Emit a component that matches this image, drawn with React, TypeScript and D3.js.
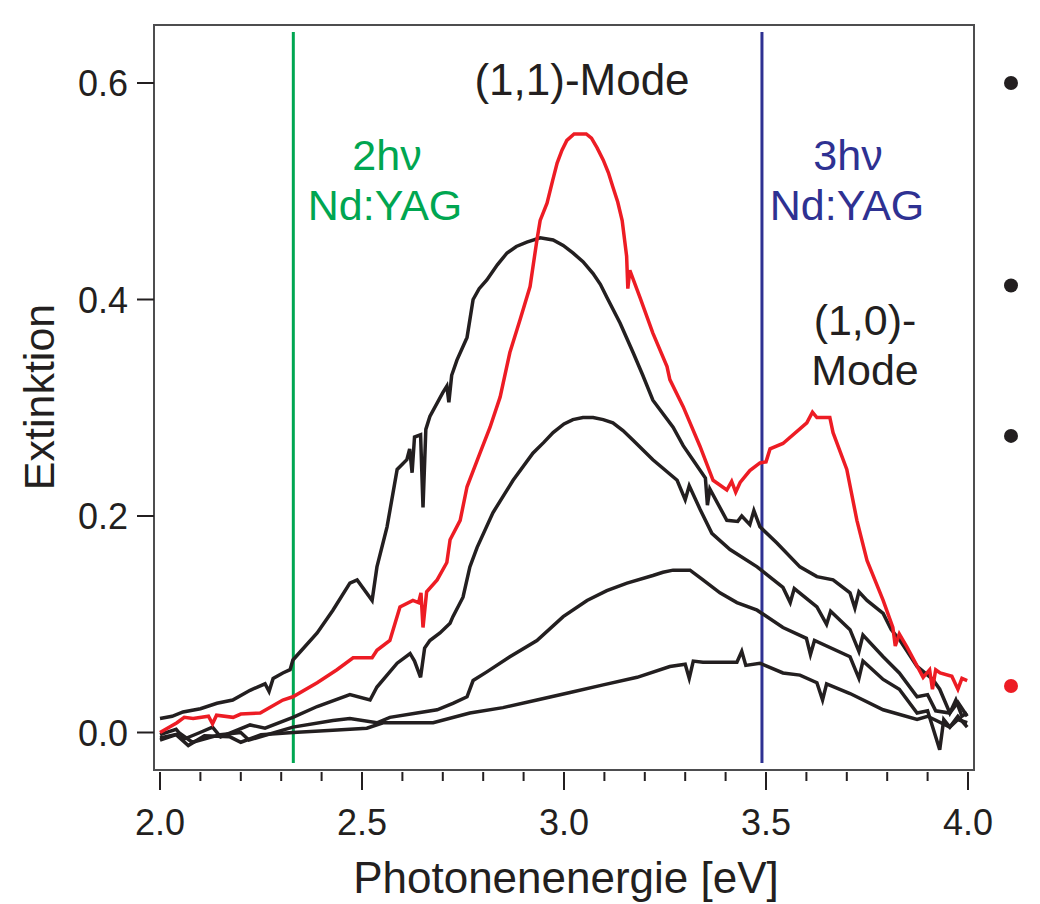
import React from "react";
import * as d3 from "d3";

type P = [number, number];

const redCurve: P[] = [
  [2.0, 0.0], [2.042, 0.009], [2.06, 0.014], [2.082, 0.013], [2.12, 0.015], [2.13, 0.008], [2.14, 0.016],
  [2.181, 0.014], [2.2, 0.017], [2.248, 0.018], [2.304, 0.03], [2.329, 0.033],
  [2.389, 0.046], [2.438, 0.058], [2.478, 0.069], [2.525, 0.069], [2.537, 0.076], [2.569, 0.085], [2.594, 0.116],
  [2.626, 0.122], [2.64, 0.12], [2.646, 0.129], [2.651, 0.097], [2.66, 0.13], [2.686, 0.141], [2.71, 0.157], [2.718, 0.178],
  [2.743, 0.196], [2.76, 0.227], [2.792, 0.258], [2.817, 0.282], [2.842, 0.31], [2.866, 0.351], [2.891, 0.381],
  [2.916, 0.412], [2.933, 0.455], [2.941, 0.473], [2.958, 0.489], [2.972, 0.51], [2.983, 0.526], [2.995, 0.538],
  [3.007, 0.547], [3.025, 0.553], [3.055, 0.553], [3.068, 0.549], [3.082, 0.54], [3.097, 0.529], [3.11, 0.517],
  [3.121, 0.504], [3.133, 0.49], [3.144, 0.473], [3.155, 0.44], [3.158, 0.41], [3.163, 0.427],
  [3.188, 0.402], [3.22, 0.369], [3.255, 0.338], [3.262, 0.326], [3.295, 0.301], [3.337, 0.264], [3.369, 0.233],
  [3.403, 0.224], [3.415, 0.232], [3.425, 0.222], [3.436, 0.231], [3.46, 0.242], [3.485, 0.249], [3.5, 0.25],
  [3.51, 0.262], [3.542, 0.267], [3.601, 0.286], [3.615, 0.296], [3.626, 0.291], [3.658, 0.291],
  [3.666, 0.277], [3.7, 0.243], [3.725, 0.196], [3.75, 0.159], [3.79, 0.122], [3.814, 0.097], [3.82, 0.08],
  [3.83, 0.091], [3.849, 0.079], [3.889, 0.051], [3.905, 0.058], [3.912, 0.04], [3.92, 0.058], [3.931, 0.055],
  [3.96, 0.052], [3.975, 0.04], [3.985, 0.05], [3.998, 0.048],
];

const curveA: P[] = [
  [2.0, 0.013], [2.03, 0.015], [2.057, 0.019], [2.1, 0.022], [2.141, 0.027], [2.18, 0.03], [2.223, 0.039], [2.26, 0.045],
  [2.27, 0.038], [2.28, 0.05], [2.304, 0.055], [2.322, 0.058], [2.329, 0.067],
  [2.389, 0.092], [2.428, 0.113], [2.47, 0.138], [2.488, 0.141], [2.525, 0.122], [2.537, 0.153], [2.562, 0.19],
  [2.587, 0.243], [2.611, 0.252], [2.618, 0.262], [2.624, 0.24], [2.63, 0.273], [2.645, 0.275], [2.651, 0.208],
  [2.658, 0.28], [2.668, 0.292], [2.7, 0.314], [2.71, 0.32], [2.715, 0.305], [2.722, 0.33], [2.735, 0.344],
  [2.76, 0.365], [2.775, 0.4], [2.79, 0.41], [2.809, 0.418], [2.835, 0.432], [2.859, 0.443], [2.882, 0.449],
  [2.908, 0.453], [2.941, 0.457], [2.973, 0.455], [2.998, 0.45], [3.022, 0.443], [3.047, 0.435], [3.072, 0.424],
  [3.09, 0.414], [3.106, 0.402], [3.139, 0.378], [3.171, 0.351], [3.195, 0.33],
  [3.22, 0.307], [3.27, 0.282], [3.295, 0.265], [3.319, 0.252], [3.35, 0.235], [3.355, 0.21], [3.361, 0.225],
  [3.403, 0.196], [3.43, 0.195], [3.44, 0.2], [3.46, 0.192], [3.47, 0.205],
  [3.485, 0.19], [3.527, 0.175], [3.584, 0.153], [3.626, 0.144], [3.666, 0.141], [3.708, 0.129], [3.72, 0.115],
  [3.73, 0.13], [3.75, 0.122], [3.79, 0.11], [3.81, 0.095], [3.832, 0.085], [3.874, 0.061], [3.913, 0.049],
  [3.93, 0.04], [3.955, 0.018], [3.97, 0.03], [3.985, 0.015], [3.998, 0.018],
];

const curveB: P[] = [
  [2.0, -0.002], [2.04, 0.003], [2.06, -0.006], [2.099, 0.0], [2.13, 0.005], [2.15, -0.004], [2.223, 0.007],
  [2.26, 0.004], [2.329, 0.014], [2.389, 0.024], [2.47, 0.035], [2.52, 0.03],
  [2.537, 0.042], [2.587, 0.064], [2.619, 0.073], [2.63, 0.066], [2.645, 0.051], [2.655, 0.078], [2.668, 0.085],
  [2.693, 0.092], [2.718, 0.101], [2.725, 0.107], [2.75, 0.125], [2.767, 0.153], [2.785, 0.171], [2.824, 0.203],
  [2.874, 0.233], [2.923, 0.258], [2.95, 0.268], [2.973, 0.277], [3.0, 0.285], [3.022, 0.289], [3.047, 0.291],
  [3.072, 0.291], [3.097, 0.289], [3.121, 0.286], [3.146, 0.279], [3.171, 0.27],
  [3.22, 0.252], [3.28, 0.233], [3.3, 0.215], [3.31, 0.228], [3.337, 0.206], [3.366, 0.184], [3.411, 0.169],
  [3.478, 0.153], [3.542, 0.134], [3.56, 0.12], [3.57, 0.133], [3.626, 0.116], [3.65, 0.1], [3.66, 0.112],
  [3.708, 0.095], [3.73, 0.075], [3.74, 0.09], [3.79, 0.07], [3.83, 0.055], [3.874, 0.033], [3.9, 0.035],
  [3.92, 0.02], [3.955, 0.018], [3.975, 0.028], [3.998, 0.015],
];

const curveC: P[] = [
  [2.0, -0.005], [2.05, -0.001], [2.08, -0.009], [2.149, -0.002], [2.2, 0.0], [2.22, -0.007], [2.329, 0.005],
  [2.428, 0.011], [2.47, 0.013], [2.537, 0.009], [2.569, 0.014],
  [2.636, 0.018], [2.686, 0.021], [2.725, 0.027], [2.76, 0.033], [2.775, 0.048], [2.809, 0.056], [2.866, 0.07],
  [2.933, 0.085], [2.998, 0.107], [3.057, 0.122], [3.106, 0.131], [3.156, 0.138], [3.22, 0.145], [3.245, 0.148],
  [3.27, 0.15], [3.312, 0.15], [3.344, 0.141], [3.386, 0.129], [3.428, 0.12], [3.478, 0.113], [3.542, 0.097],
  [3.6, 0.087], [3.61, 0.072], [3.62, 0.085], [3.708, 0.07], [3.73, 0.05], [3.74, 0.066], [3.79, 0.049],
  [3.83, 0.04], [3.874, 0.018], [3.9, 0.02], [3.93, -0.016], [3.94, 0.012], [3.955, 0.005], [3.975, 0.015],
  [3.998, 0.005],
];

const curveD: P[] = [
  [2.0, -0.007], [2.04, -0.002], [2.07, -0.012], [2.11, -0.003], [2.173, -0.004], [2.2, -0.009], [2.25, -0.002],
  [2.329, 0.0], [2.428, 0.002], [2.512, 0.004], [2.552, 0.009], [2.676, 0.009],
  [2.767, 0.018], [2.849, 0.023], [2.933, 0.03], [3.015, 0.037], [3.097, 0.044], [3.181, 0.051], [3.262, 0.061],
  [3.3, 0.063], [3.31, 0.05], [3.32, 0.066], [3.344, 0.065], [3.428, 0.065], [3.44, 0.075], [3.45, 0.062],
  [3.485, 0.064], [3.542, 0.055], [3.584, 0.053], [3.626, 0.046], [3.64, 0.03], [3.65, 0.045], [3.708, 0.036],
  [3.79, 0.021], [3.874, 0.012], [3.9, 0.015], [3.955, 0.005], [3.975, 0.012], [3.998, 0.009],
];

const blackCurves: P[][] = [curveA, curveB, curveC, curveD];

const xMajorTicks = [2.0, 2.5, 3.0, 3.5, 4.0];
const xMinorTicks = d3.range(20, 41).map((v) => v / 10);
const yTicks = [0.0, 0.2, 0.4, 0.6];
const laserLines = [
  { energy: 2.33, color: "#00a651", labels: ["2hν", "Nd:YAG"] },
  { energy: 3.49, color: "#2e3192", labels: ["3hν", "Nd:YAG"] },
];
const markerDots = [
  { value: 0.6, color: "#231f20" },
  { value: 0.413, color: "#231f20" },
  { value: 0.274, color: "#231f20" },
  { value: 0.043, color: "#ed1c24" },
];

const W = 1040;
const H = 904;
const FONT = "'Liberation Sans', Arial, Helvetica, sans-serif";

export default function App() {
  const x = d3.scaleLinear().domain([2, 4]).range([160, 968]);
  const y = d3.scaleLinear().domain([0, 0.6]).range([732.5, 83]);
  const line = d3
    .line<P>()
    .x((d) => x(d[0]))
    .y((d) => y(d[1]))
    .curve(d3.curveLinear);

  const frame = { left: 154, right: 974, top: 25, bottom: 770 };

  return (
    <svg
      width={W}
      height={H}
      style={{ position: "absolute", left: 0, top: 0, background: "#fff" }}
      fontFamily={FONT}
    >
      <rect x={0} y={0} width={W} height={H} fill="#fff" />
      {/* frame */}
      <rect
        x={frame.left}
        y={frame.top}
        width={frame.right - frame.left}
        height={frame.bottom - frame.top}
        fill="none"
        stroke="#4d4d4f"
        strokeWidth={2}
      />
      {/* y ticks */}
      {yTicks.map((t) => (
        <g key={"y" + t}>
          <line x1={137} x2={frame.left} y1={y(t)} y2={y(t)} stroke="#231f20" strokeWidth={2} />
          <text x={128} y={y(t) + 13} textAnchor="end" fontSize={36} fill="#231f20">
            {t.toFixed(1)}
          </text>
        </g>
      ))}
      {/* x ticks */}
      {xMinorTicks.map((t) => (
        <line key={"xm" + t} x1={x(t)} x2={x(t)} y1={772} y2={781} stroke="#231f20" strokeWidth={2} />
      ))}
      {xMajorTicks.map((t) => (
        <g key={"x" + t}>
          <line x1={x(t)} x2={x(t)} y1={772} y2={790} stroke="#231f20" strokeWidth={2} />
          <text x={x(t)} y={835} textAnchor="middle" fontSize={36} fill="#231f20">
            {t.toFixed(1)}
          </text>
        </g>
      ))}
      {/* axis titles */}
      <text x={566} y={893} textAnchor="middle" fontSize={44} fill="#231f20">
        Photonenenergie [eV]
      </text>
      <text
        transform={`translate(54,397) rotate(-90)`}
        textAnchor="middle"
        fontSize={43}
        fill="#231f20"
      >
        Extinktion
      </text>
      {/* laser lines */}
      {laserLines.map((l) => (
        <line
          key={l.energy}
          x1={x(l.energy)}
          x2={x(l.energy)}
          y1={32}
          y2={763}
          stroke={l.color}
          strokeWidth={3}
        />
      ))}
      {/* data */}
      {blackCurves.map((c, i) => (
        <path
          key={i}
          d={line(c) || ""}
          fill="none"
          stroke="#231f20"
          strokeWidth={3.5}
          strokeLinejoin="miter"
        />
      ))}
      <path
        d={line(redCurve) || ""}
        fill="none"
        stroke="#ed1c24"
        strokeWidth={3.5}
        strokeLinejoin="miter"
      />
      {/* annotations */}
      <text x={582} y={95} textAnchor="middle" fontSize={44} fill="#231f20">
        (1,1)-Mode
      </text>
      <text x={387} y={170} textAnchor="middle" fontSize={43} fill={laserLines[0].color}>
        {laserLines[0].labels[0]}
      </text>
      <text x={385} y={220} textAnchor="middle" fontSize={43} fill={laserLines[0].color}>
        {laserLines[0].labels[1]}
      </text>
      <text x={848} y={170} textAnchor="middle" fontSize={43} fill={laserLines[1].color}>
        {laserLines[1].labels[0]}
      </text>
      <text x={847} y={220} textAnchor="middle" fontSize={43} fill={laserLines[1].color}>
        {laserLines[1].labels[1]}
      </text>
      <text x={865} y={335} textAnchor="middle" fontSize={43} fill="#231f20">
        (1,0)-
      </text>
      <text x={865} y={385} textAnchor="middle" fontSize={43} fill="#231f20">
        Mode
      </text>
      {/* marker dots */}
      {markerDots.map((d, i) => (
        <circle key={i} cx={1011} cy={y(d.value)} r={7} fill={d.color} />
      ))}
    </svg>
  );
}
